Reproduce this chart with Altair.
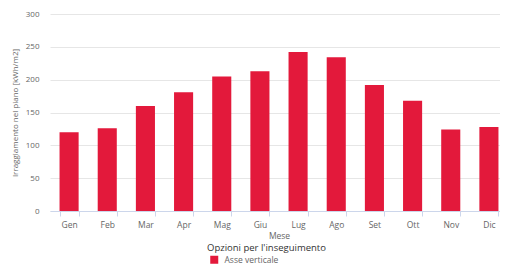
import altair as alt
import pandas as pd

months = ["Gen", "Feb", "Mar", "Apr", "Mag", "Giu", "Lug", "Ago", "Set", "Ott", "Nov", "Dic"]
values = [120, 126, 160, 181, 205, 213, 242, 234, 192, 168, 124, 128]
series_name = "Asse verticale"
y_ticks = [0, 50, 100, 150, 200, 250, 300]

df = pd.DataFrame({"Mese": months, "Valore": values, "Serie": [series_name] * len(months)})

font = "Open Sans"

chart = alt.Chart(df).mark_bar().encode(
    x=alt.X(
        "Mese:N",
        sort=months,
        scale=alt.Scale(paddingInner=0.5, paddingOuter=0.25, range=[0, 458]),
        axis=alt.Axis(
            title="Mese",
            labelAngle=0,
            tickBand="extent",
            tickSize=5,
            tickColor="#ccd6eb",
            domainColor="#ccd6eb",
            labelColor="#666666",
            labelFontSize=8.5,
            labelPadding=4,
            titleColor="#666666",
            titleFontSize=8.5,
            titleFontWeight="normal",
            titlePadding=3,
            grid=False,
        ),
    ),
    y=alt.Y(
        "Valore:Q",
        scale=alt.Scale(domain=[0, 300], nice=False),
        axis=alt.Axis(
            title="Irraggiamento nel piano [kWh/m2]",
            values=y_ticks,
            ticks=False,
            domain=False,
            labelColor="#666666",
            labelFontSize=8,
            labelPadding=11,
            titleColor="#666666",
            titleFontSize=8,
            titleFontWeight="normal",
            titlePadding=6,
            gridColor="#e6e6e6",
        ),
    ),
    color=alt.Color(
        "Serie:N",
        scale=alt.Scale(domain=[series_name], range=["#e3193b"]),
        legend=alt.Legend(
            title="Opzioni per l'inseguimento",
            orient="none",
            legendX=157,
            legendY=229,
            symbolType="square",
            symbolSize=64,
            symbolStrokeWidth=0,
            symbolOffset=3,
            titleColor="#333333",
            titleFontSize=9.5,
            titleFontWeight=500,
            titlePadding=3,
            labelColor="#666666",
            labelFontSize=8.5,
            labelOffset=6,
        ),
    ),
).properties(
    width=450,
    height=197,
    autosize=alt.AutoSizeParams(type="none"),
    padding={"left": 42, "top": 6, "right": 0, "bottom": 57},
).configure(
    font=font,
).configure_view(
    stroke=None,
)

chart.save("out.html", embed_options={"renderer": "svg", "actions": False})
